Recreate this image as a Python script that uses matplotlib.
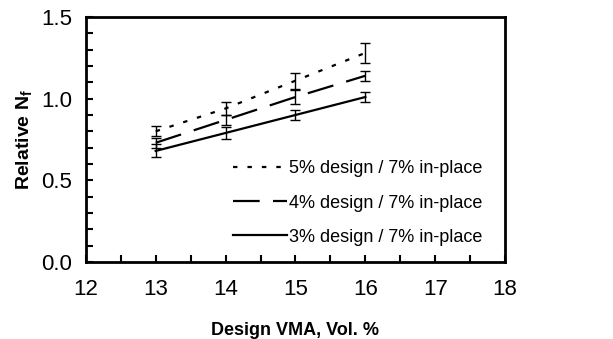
import matplotlib.pyplot as plt
from matplotlib.ticker import MultipleLocator

plt.rcParams['font.family'] = ['Liberation Sans', 'DejaVu Sans']

vma = [13, 14, 15, 16]

nf_5 = [0.80, 0.94, 1.11, 1.28]
err_5 = [0.03, 0.04, 0.05, 0.06]

nf_4 = [0.73, 0.87, 1.01, 1.14]
err_4 = [0.03, 0.03, 0.04, 0.03]

nf_3 = [0.68, 0.79, 0.90, 1.01]
err_3 = [0.04, 0.035, 0.03, 0.03]

labels = ["5% design / 7% in-place", "4% design / 7% in-place", "3% design / 7% in-place"]


def main():
    fig = plt.figure(figsize=(6.13, 3.39), dpi=100)
    ax = fig.add_axes([0.140, 0.227, 0.684, 0.723])

    styles = [(0, (2, 4.5)), (0, (12, 6)), "-"]
    series = [(nf_5, err_5), (nf_4, err_4), (nf_3, err_3)]
    for (y, e), ls, lab in zip(series, styles, labels):
        ax.errorbar(vma, y, yerr=e, color="black", lw=1.6, ls=ls,
                    elinewidth=1.0, capsize=3.5, capthick=1.0, label=lab)

    ax.set_xlim(12, 18)
    ax.set_ylim(0, 1.5)
    ax.xaxis.set_major_locator(MultipleLocator(1))
    ax.xaxis.set_minor_locator(MultipleLocator(0.5))
    ax.yaxis.set_major_locator(MultipleLocator(0.5))
    ax.yaxis.set_minor_locator(MultipleLocator(0.1))
    ax.yaxis.set_major_formatter(plt.FormatStrFormatter("%.1f"))
    ax.tick_params(which="both", direction="in", length=5, width=1.5,
                   top=False, right=False, labelsize=16)
    ax.tick_params(axis="x", which="major", pad=12)
    ax.tick_params(axis="y", which="major", pad=10)
    for sp in ax.spines.values():
        sp.set_linewidth(2)

    ax.set_xlabel("Design VMA, Vol. %", fontsize=13, fontweight="bold", labelpad=16)
    ax.set_ylabel("Relative N$_\\mathregular{f}$", fontsize=14, fontweight="bold", labelpad=4)

    handles, labs = ax.get_legend_handles_labels()
    handles = [h[0] for h in handles]
    ax.legend(handles, labs, loc="lower right", bbox_to_anchor=(0.985, 0.0),
              frameon=False, fontsize=13, handlelength=3.0, handletextpad=0.1,
              labelspacing=0.95)

    fig.savefig("out.png", dpi=100)


if __name__ == "__main__":
    main()
